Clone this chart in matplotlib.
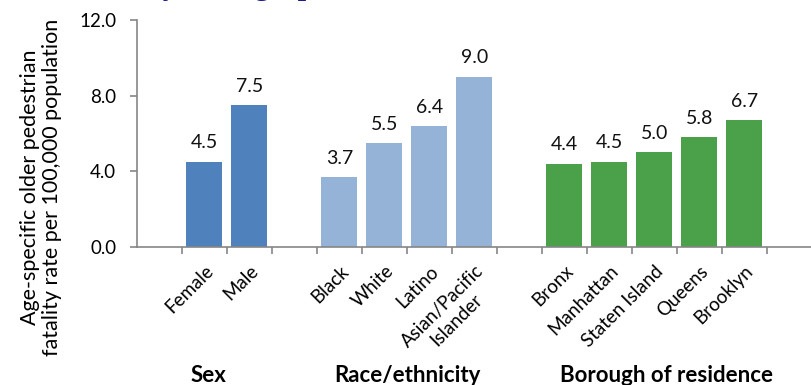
import matplotlib
matplotlib.use('Agg')
import matplotlib.pyplot as plt
from matplotlib.ticker import FormatStrFormatter, FixedLocator

# fatality rates per 100,000, grouped by characteristic
sex_labels = ['Female', 'Male']
sex_rates = [4.5, 7.5]
race_labels = ['Black', 'White', 'Latino', 'Asian/Pacific\nIslander']
race_rates = [3.7, 5.5, 6.4, 9.0]
borough_labels = ['Bronx', 'Manhattan', 'Staten Island', 'Queens', 'Brooklyn']
borough_rates = [4.4, 4.5, 5.0, 5.8, 6.7]
group_names = ['Sex', 'Race/ethnicity', 'Borough of residence']
y_ticks = [0, 4, 8, 12]

groups = [
	( sex_labels, sex_rates, '#4F81BD' ),
	( race_labels, race_rates, '#95B3D7' ),
	( borough_labels, borough_rates, '#4BA14A' ),
]
name_shift = [-0.42, 0.0, 0.27]

plt.rcParams['font.family'] = ['Lato', 'DejaVu Sans']
axis_grey = '#868686'

fig = plt.figure( figsize = ( 8.12, 3.85 ), dpi = 100 )
ax = fig.add_axes( [137 / 812, 1 - 247 / 385, 675 / 812, 227 / 385] )

# one empty slot before each group, and one after the last
pos = 1
centers, labels = [], []
for i, ( names, rates, color ) in enumerate( groups ):
	xs = list( range( pos, pos + len( names ) ) )
	ax.bar( xs, rates, width = 0.8, color = color, zorder = 2 )
	for x, r in zip( xs, rates ):
		ax.text( x, r + 0.55, f'{r:.1f}', ha = 'center', va = 'bottom', fontsize = 14, color = '#111111' )
	ax.text( ( xs[0] + xs[-1] ) / 2 + name_shift[i], -0.565, group_names[i],
		transform = ax.get_xaxis_transform(), ha = 'center', va = 'center',
		fontsize = 16, fontweight = 'bold', color = 'black' )
	centers += xs
	labels += names
	pos += len( names ) + 1

ax.set_xlim( -0.5, pos - 0.5 )
ax.set_ylim( 0, 12 )

ax.set_xticks( centers )
ax.set_xticklabels( labels, rotation = 45, ha = 'right', rotation_mode = 'anchor',
	fontsize = 13.5, multialignment = 'center' )
ax.tick_params( axis = 'x', which = 'major', length = 0, pad = 11 )
ax.xaxis.set_minor_locator( FixedLocator( [x + 0.5 for x in range( pos - 1 )] ) )
ax.tick_params( axis = 'x', which = 'minor', length = 5, width = 1.2, color = axis_grey )

ax.set_yticks( y_ticks )
ax.yaxis.set_major_formatter( FormatStrFormatter( '%.1f' ) )
ax.tick_params( axis = 'y', length = 5, width = 1.2, color = axis_grey, labelsize = 13.5, pad = 10 )

for side in ['top', 'right']:
	ax.spines[side].set_visible( False )
for side in ['left', 'bottom']:
	ax.spines[side].set_color( axis_grey )
	ax.spines[side].set_linewidth( 1.2 )

fig.text( 41 / 812, 1 - 187 / 385,
	'Age-specific older pedestrian\nfatality rate per 100,000 population',
	rotation = 90, ha = 'center', va = 'center', fontsize = 15.5, linespacing = 1.1 )

# title line sits above the top edge, only its descenders show
fig.text( 146 / 812, 1 + 5 / 385, 'by demographic characteristics,',
	ha = 'left', va = 'baseline', fontsize = 21.5, fontweight = 'bold',
	family = ['Liberation Serif'], color = '#1A1A8C' )

fig.savefig( 'out.png', dpi = 100 )
